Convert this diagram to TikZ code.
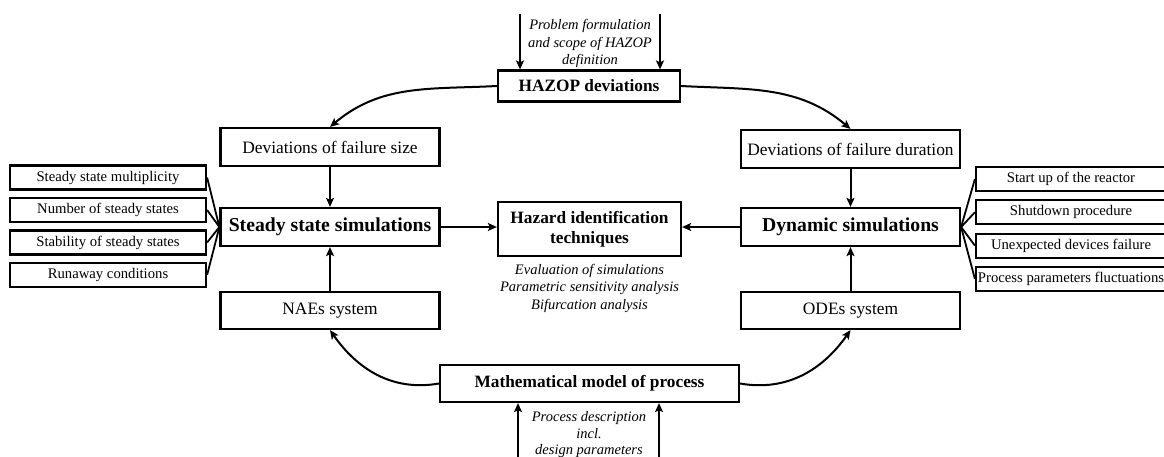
\documentclass[tikz,border=0pt]{standalone}
\usepackage{fontspec}
\setmainfont{Liberation Serif}
\usetikzlibrary{arrows.meta}
\tikzset{>={Stealth[length=9pt,width=8pt,inset=2pt]}}

\begin{document}
\begin{tikzpicture}[x=1pt, y=-1pt,
                box/.style={draw, line width=2.2pt, inner sep=0pt, align=center},
                bigbox/.style={box, minimum width=219pt, minimum height=38pt},
                smallbox/.style={box, minimum height=24pt, font=\fontsize{14.7}{17}\selectfont},
                regular/.style={font=\fontsize{17.4}{20}\selectfont},
                bold/.style={font=\fontsize{17.3}{20}\selectfont\bfseries},
                bigbold/.style={font=\fontsize{19.7}{22}\selectfont\bfseries},
                note/.style={align=center, inner sep=0pt, font=\fontsize{14.5}{17.5}\selectfont\itshape},
                flow/.style={line width=2pt, ->},
                link/.style={line width=1.8pt}]
                \useasboundingbox (0,0) rectangle (1164,456);

                % main boxes
                \node[box, minimum width=182pt, minimum height=31pt, bold] (hazop) at (589,86) {HAZOP deviations};
                \node[bigbox, regular] (sizedev) at (330,147) {Deviations of failure size};
                \node[bigbox, regular] (durdev) at (850.5,149) {Deviations of failure duration};
                \node[bigbox, bigbold] (sss) at (330,227) {Steady state simulations};
                \node[bigbox, bigbold] (dyn) at (850.5,227) {Dynamic simulations};
                \node[box, minimum width=183pt, minimum height=54pt, bold] (hit) at (589.5,229) {Hazard identification\\techniques};
                \node[bigbox, minimum height=37pt, regular] (naes) at (330,310.5) {NAEs system};
                \node[bigbox, minimum height=37pt, regular] (odes) at (850.5,310.5) {ODEs system};
                \node[box, minimum width=299pt, minimum height=37pt, bold] (math) at (589.5,383.5) {Mathematical model of process};

                % notes
                \node[note, text depth=0pt] (probtxt) at (590,42) {Problem formulation\\and scope of HAZOP\\definition};
                \node[note] (evaltxt) at (589.5,288) {Evaluation of simulations\\Parametric sensitivity analysis\\Bifurcation analysis};
                \node[note, font=\fontsize{14.5}{16.5}\selectfont\itshape] (proctxt) at (589,435) {Process description\\incl.\\design parameters};

                % inputs
                \coordinate (in1) at (520,14);
                \coordinate (in2) at (660,14);
                \coordinate (in3) at (518,462);
                \coordinate (in4) at (659,462);
                \draw[flow] (in1) -- (in1 |- hazop.north);
                \draw[flow] (in2) -- (in2 |- hazop.north);
                \draw[flow] (in3) -- (in3 |- math.south);
                \draw[flow] (in4) -- (in4 |- math.south);

                % curved connectors
                \draw[flow] (hazop.west) to[out=183, in=40] (sizedev.north);
                \draw[flow] (hazop.east) to[out=-3, in=140] (durdev.north);
                \draw[flow] (math.west) to[out=190, in=-55] (naes.south);
                \draw[flow] (math.east) to[out=-10, in=-125] (odes.south);

                % straight connectors
                \draw[flow] (sizedev) -- (sss);
                \draw[flow] (durdev) -- (dyn);
                \draw[flow] (naes) -- (sss);
                \draw[flow] (odes) -- (dyn);
                \draw[flow] (sss.east) -- (sss.east -| hit.west);
                \draw[flow] (dyn.west) -- (dyn.west -| hit.east);

                % side boxes
                \foreach \txt [count=\i, evaluate={\yy=177.5+32.5*(\i-1);}]
                in {Steady state multiplicity, Number of steady states, Stability of steady states, Runaway conditions}{
                    \node[smallbox, minimum width=196pt] (ssitem\i) at (108,\yy) {\txt};
                    \draw[link] (ssitem\i.east) -- (sss.west);
                }
                \foreach \txt [count=\i, evaluate={\yy=179+33.3*(\i-1);}]
                in {Start up of the reactor, Shutdown procedure, Unexpected devices failure, Process parameters fluctuations}{
                    \node[smallbox, minimum width=190pt] (dynitem\i) at (1071,\yy) {\txt};
                    \draw[link] (dynitem\i.west) -- (dyn.east);
                }
\end{tikzpicture}
\end{document}
